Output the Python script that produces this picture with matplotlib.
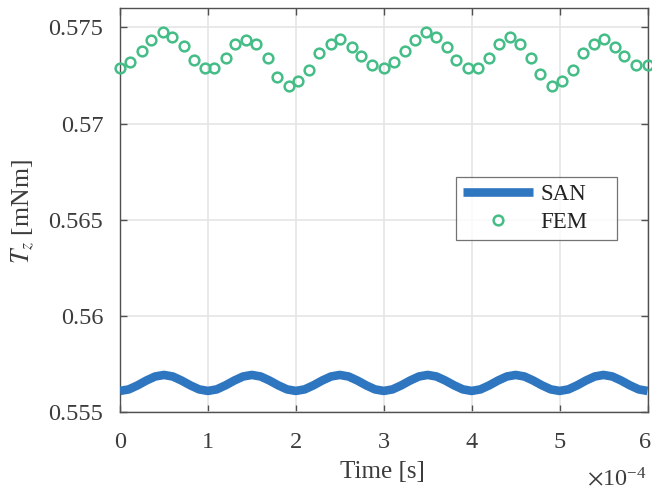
import numpy as np
import matplotlib
matplotlib.use("Agg")
import matplotlib.pyplot as plt
import matplotlib.transforms as mtransforms

# ---- data ----
# SAN: smooth torque curve, time in units of 1e-4 s (step 0.1e-4)
san_t = [i * 0.1 for i in range(61)]
san_v = [0.55611, 0.55619, 0.55640, 0.55665, 0.55686, 0.55694, 0.55686, 0.55665, 0.55640, 0.55619,
         0.55611, 0.55619, 0.55640, 0.55665, 0.55686, 0.55694, 0.55686, 0.55665, 0.55640, 0.55619,
         0.55611, 0.55619, 0.55640, 0.55665, 0.55686, 0.55694, 0.55686, 0.55665, 0.55640, 0.55619,
         0.55611, 0.55619, 0.55640, 0.55665, 0.55686, 0.55694, 0.55686, 0.55665, 0.55640, 0.55619,
         0.55611, 0.55619, 0.55640, 0.55665, 0.55686, 0.55694, 0.55686, 0.55665, 0.55640, 0.55619,
         0.55611, 0.55619, 0.55640, 0.55665, 0.55686, 0.55694, 0.55686, 0.55665, 0.55640, 0.55619,
         0.55611]

# FEM: sampled torque, time in units of 1e-4 s
fem_t = [0.0, 0.117, 0.25, 0.356, 0.485, 0.594, 0.727, 0.837, 0.969, 1.072,
         1.205, 1.31, 1.435, 1.549, 1.678, 1.784, 1.917, 2.026, 2.151, 2.265,
         2.398, 2.508, 2.636, 2.746, 2.871, 3.003, 3.114, 3.246, 3.352, 3.485,
         3.591, 3.72, 3.826, 3.958, 4.072, 4.201, 4.307, 4.435, 4.545, 4.67,
         4.78, 4.917, 5.026, 5.151, 5.261, 5.39, 5.5, 5.625, 5.731, 5.872, 6.0]
fem_v = [0.57290, 0.57318, 0.57377, 0.57436, 0.57474, 0.57448, 0.57401, 0.57329, 0.57290, 0.57290,
         0.57341, 0.57413, 0.57436, 0.57413, 0.57341, 0.57243, 0.57195, 0.57221, 0.57280, 0.57365,
         0.57413, 0.57438, 0.57399, 0.57352, 0.57304, 0.57290, 0.57318, 0.57377, 0.57436, 0.57474,
         0.57448, 0.57399, 0.57329, 0.57290, 0.57290, 0.57341, 0.57413, 0.57450, 0.57413, 0.57341,
         0.57256, 0.57195, 0.57221, 0.57280, 0.57365, 0.57413, 0.57438, 0.57399, 0.57352, 0.57304,
         0.57304]

xticks = [0, 1, 2, 3, 4, 5, 6]
xticklabels = ["0", "1", "2", "3", "4", "5", "6"]
yticks = [0.555, 0.56, 0.565, 0.57, 0.575]
yticklabels = ["0.555", "0.56", "0.565", "0.57", "0.575"]

SAN_COLOR = "#2E76BF"
FEM_COLOR = "#45BD87"
TXT = "#3c3c3c"
AX = "#505050"

plt.rcParams["font.family"] = ["Liberation Serif", "DejaVu Serif"]
plt.rcParams["mathtext.fontset"] = "stix"

fig = plt.figure(figsize=(6.52, 4.91), dpi=100)
AX_H = 412.3 - 8
ax = fig.add_axes([120 / 652, 1 - 412.3 / 491, 527.5 / 652, AX_H / 491])

ax.plot(np.array(san_t) * 1e-4, san_v, color=SAN_COLOR, lw=6.2, label="SAN",
        solid_capstyle="butt", zorder=3)
ax.plot(np.array(fem_t) * 1e-4, fem_v, ls="none", marker="o", ms=7.0, mew=1.8,
        mfc="none", mec=FEM_COLOR, label="FEM", zorder=4, clip_on=False)

ax.set_xlim(0, 6e-4)
ax.set_ylim(0.555, 0.576)
ax.set_xticks(np.array(xticks) * 1e-4)
ax.set_xticklabels(xticklabels)
ax.set_yticks(yticks)
ax.set_yticklabels(yticklabels)

ax.grid(True, color="#e3e3e3", lw=1.1)
ax.set_axisbelow(True)
for s in ax.spines.values():
    s.set_color(AX)
    s.set_linewidth(1.0)
ax.tick_params(direction="in", length=5, width=1.0, color=AX, labelcolor=TXT,
               labelsize=17.5, top=True, right=True)
ax.tick_params(axis="x", pad=14)
ax.tick_params(axis="y", pad=12)

# nudge the last x tick label slightly left so it stays inside the canvas
last = ax.get_xticklabels()[-1]
last.set_transform(last.get_transform() +
                   mtransforms.ScaledTranslation(-2.5 / 100, 0, fig.dpi_scale_trans))

ax.set_xlabel("Time [s]", fontsize=18, color=TXT)
ax.xaxis.set_label_coords(0.498, -(461 - 412.3) / AX_H)
ax.set_ylabel(r"$T_z$ [mNm]", fontsize=18.5, color=TXT)
ax.yaxis.set_label_coords((23 - 120) / 527.5, (412.3 - 212) / AX_H)
ax.yaxis.label.set_va("center")

fig.text(647 / 652, 1 - 486 / 491, r"$\times\mathregular{10^{-4}}$", ha="right",
         va="baseline", fontsize=17.5, color=TXT)

leg = ax.legend(loc="upper left",
                bbox_to_anchor=((456 - 120) / 527.5, (412.3 - 243) / AX_H,
                                161 / 527.5, 66 / AX_H),
                mode="expand", borderaxespad=0, fontsize=16.5, frameon=True,
                fancybox=False, handlelength=3.05, borderpad=0.3,
                labelspacing=0.3, handletextpad=0.35)
leg.get_frame().set_edgecolor(AX)
leg.get_frame().set_linewidth(0.9)
for t in leg.get_texts():
    t.set_color("#222222")

fig.savefig("out.png", dpi=100)
